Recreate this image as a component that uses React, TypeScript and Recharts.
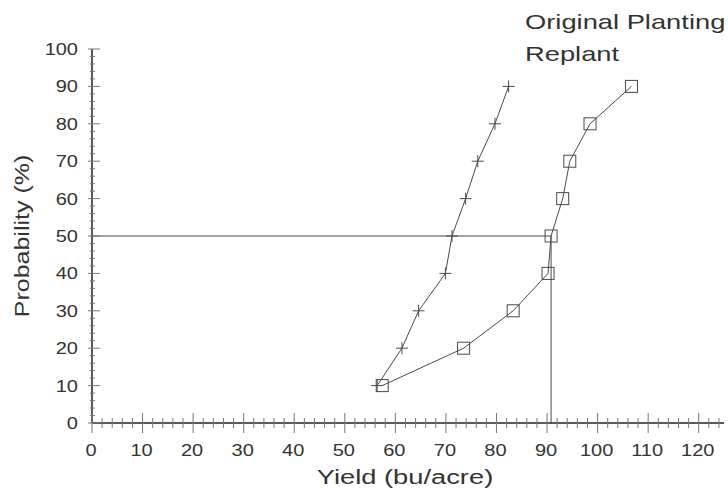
import React from "react";
import { Legend, ReferenceLine, Scatter, ScatterChart, XAxis, YAxis } from "recharts";

// Cumulative probability (%) vs. yield (bu/acre).
const probability = [10, 20, 30, 40, 50, 60, 70, 80, 90];
const originalYield = [56.4, 61.3, 64.6, 69.9, 71.2, 73.9, 76.3, 79.7, 82.4];
const replantYield = [57.4, 73.5, 83.3, 90.2, 90.8, 93.1, 94.5, 98.5, 106.7];
const seriesNames = ["Original Planting", "Replant"];

// 50% guide and the replant median it meets.
const medianProb = 50;
const medianYield = 90.8;

const xMajor = [0, 10, 20, 30, 40, 50, 60, 70, 80, 90, 100, 110, 120];
const yMajor = [0, 10, 20, 30, 40, 50, 60, 70, 80, 90, 100];
const xTicks = Array.from({ length: 63 }, (_, i) => i * 2);
const yTicks = Array.from({ length: 51 }, (_, i) => i * 2);

const FONT = '"Liberation Sans", Arial, Helvetica, sans-serif';
const INK = "#333";
const LINE = "#4a4a4a";
const TICK = "#777";

const toPoints = (xs: number[]) => xs.map((x, i) => ({ x, y: probability[i] }));

// Text in the scan is stretched sideways, so scale glyphs horizontally.
function Wide({ x, y, size, sx = 1.25, anchor = "middle", rotate = 0, children }: any) {
  return (
    <text
      transform={`translate(${x},${y}) rotate(${rotate}) scale(${sx},1)`}
      textAnchor={anchor}
      fontFamily={FONT}
      fontSize={size}
      fill={INK}
    >
      {children}
    </text>
  );
}

function XTick({ x, y, payload }: any) {
  const major = xMajor.includes(payload.value);
  const h = major ? 10 : 5;
  return (
    <g>
      <line x1={x} x2={x} y1={y - h} y2={y + h} stroke={TICK} strokeWidth={1} />
      {major && (
        <Wide x={x - 1} y={y + 33} size={16}>
          {payload.value}
        </Wide>
      )}
    </g>
  );
}

function YTick({ x, y, payload }: any) {
  const major = yMajor.includes(payload.value);
  return (
    <g>
      <line
        x1={x - (major ? 4 : 2)}
        x2={x + (major ? 8 : 3)}
        y1={y}
        y2={y}
        stroke={TICK}
        strokeWidth={1}
      />
      {major && (
        <Wide x={x - 14} y={y + 6} size={16} anchor="end">
          {payload.value}
        </Wide>
      )}
    </g>
  );
}

function PlusMark({ cx, cy }: any) {
  return (
    <g stroke={LINE} strokeWidth={1}>
      <line x1={cx - 6} x2={cx + 6} y1={cy} y2={cy} />
      <line x1={cx} x2={cx} y1={cy - 6} y2={cy + 6} />
    </g>
  );
}

function SquareMark({ cx, cy }: any) {
  return <rect x={cx - 6} y={cy - 6} width={12} height={12} fill="none" stroke={LINE} strokeWidth={1} />;
}

function LegendText({ payload }: any) {
  return (
    <div
      style={{
        fontFamily: FONT,
        fontSize: 21,
        lineHeight: "32px",
        color: INK,
        transform: "scaleX(1.3)",
        transformOrigin: "left top",
        whiteSpace: "nowrap",
      }}
    >
      {(payload || []).map((p: any) => (
        <div key={p.value}>{p.value}</div>
      ))}
    </div>
  );
}

export default function App() {
  return (
    <div style={{ position: "absolute", left: 0, top: 0, background: "#fff" }}>
      <ScatterChart width={728} height={491} margin={{ top: 49, right: 4, left: 0, bottom: 0 }}>
        <XAxis
          type="number"
          dataKey="x"
          domain={[0, 125]}
          ticks={xTicks}
          interval={0}
          tickSize={0}
          tickMargin={0}
          tickLine={false}
          tick={<XTick />}
          height={68}
          axisLine={{ stroke: "#222", strokeWidth: 1.5 }}
          label={{
            value: "Yield (bu/acre)",
            content: ({ viewBox }: any) => (
              <Wide x={viewBox.x + viewBox.width / 2 - 3} y={viewBox.y + 61} size={21} sx={1.3}>
                Yield (bu/acre)
              </Wide>
            ),
          }}
        />
        <YAxis
          type="number"
          dataKey="y"
          domain={[0, 100]}
          ticks={yTicks}
          interval={0}
          tickSize={0}
          tickMargin={0}
          tickLine={false}
          tick={<YTick />}
          width={92}
          axisLine={{ stroke: "#222", strokeWidth: 1.5 }}
          label={{
            value: "Probability (%)",
            content: ({ viewBox }: any) => (
              <Wide x={viewBox.x + 29} y={viewBox.y + viewBox.height / 2} size={20} rotate={-90}>
                Probability (%)
              </Wide>
            ),
          }}
        />
        <ReferenceLine
          segment={[
            { x: 0, y: medianProb },
            { x: medianYield, y: medianProb },
          ]}
          stroke={LINE}
          strokeWidth={1}
        />
        <ReferenceLine
          segment={[
            { x: medianYield, y: 0 },
            { x: medianYield, y: medianProb },
          ]}
          stroke={LINE}
          strokeWidth={1}
        />
        <Scatter
          name={seriesNames[0]}
          data={toPoints(originalYield)}
          line={{ stroke: LINE, strokeWidth: 1 }}
          shape={<PlusMark />}
          isAnimationActive={false}
        />
        <Scatter
          name={seriesNames[1]}
          data={toPoints(replantYield)}
          line={{ stroke: LINE, strokeWidth: 1 }}
          shape={<SquareMark />}
          isAnimationActive={false}
        />
        <Legend
          layout="vertical"
          align="center"
          verticalAlign="middle"
          content={<LegendText />}
          wrapperStyle={{ left: 525, top: 6, width: 200, height: 70 }}
        />
      </ScatterChart>
    </div>
  );
}
